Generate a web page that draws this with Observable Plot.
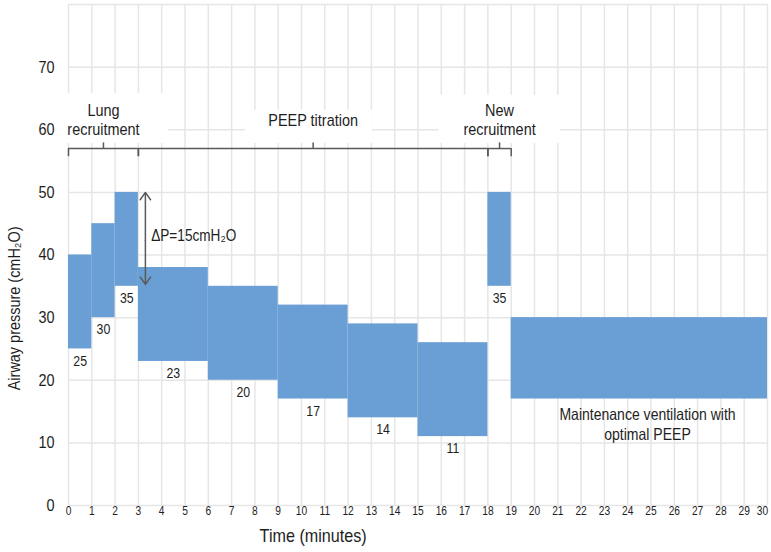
<!DOCTYPE html>
<html><head><meta charset="utf-8">
<script src="https://cdn.jsdelivr.net/npm/d3@7"></script>
<script src="https://cdn.jsdelivr.net/npm/@observablehq/plot@0.6"></script>
<style>
body{margin:0;background:#fff;}
#chart svg{font-family:"Liberation Sans",Arial,sans-serif;}
</style></head><body><div id="chart"></div>
<script>
// step starts / ends (minutes), PEEP (bottom) and peak pressure (top), cmH2O
const segStart = [0, 1, 2, 3, 6, 9, 12, 15, 18, 19];
const segEnd   = [1, 2, 3, 6, 9, 12, 15, 18, 19, 30];
const peep     = [25, 30, 35, 23, 20, 17, 14, 11, 35, 17];
const peak     = [40, 45, 50, 38, 35, 32, 29, 26, 50, 30];
const peepLabels = ["25","30","35","23","20","17","14","11","35",""];
// phases (braces)
const phaseNames = ["Lung\nrecruitment", "PEEP titration", "New\nrecruitment"];
const phaseStart = [0, 3, 18];
const phaseEnd   = [3, 18, 19];
// ticks
const xTicks = d3.range(0, 31);
const yTicks = [0, 10, 20, 30, 40, 50, 60, 70];
const yGrid  = [0, 10, 20, 30, 40, 50, 60, 70, 80];

const segs = segStart.map((s, i) => ({s, e: segEnd[i], lo: peep[i], hi: peak[i], lab: peepLabels[i]}));
const phases = phaseNames.map((n, i) => ({n, s: phaseStart[i], e: phaseEnd[i], m: (phaseStart[i] + phaseEnd[i]) / 2}));
const braceY = 57;
const gridColor = "#e6e6e6";
const ink = "#1e1e1e";
const braceColor = "#5a5a5a";
const barColor = "#6a9fd5";

// white masks behind the phase captions (as in the original)
const masks = [
  {x1: -0.1, x2: 4.3, y1: 57.8, y2: 65.8},
  {x1: 7.6, x2: 13.05, y1: 57.8, y2: 63.1},
  {x1: 15.9, x2: 21.1, y1: 57.8, y2: 65.5}
];

const chart = Plot.plot({
  width: 771,
  height: 552,
  marginLeft: 68,
  marginRight: 4,
  marginTop: 4,
  marginBottom: 47,
  x: {domain: [0, 30]},
  y: {domain: [0, 80]},
  marks: [
    Plot.gridY(yGrid, {stroke: gridColor, strokeOpacity: 1, strokeWidth: 1.5}),
    Plot.gridX(xTicks, {stroke: gridColor, strokeOpacity: 1, strokeWidth: 1.5}),
    Plot.rect(masks, {x1: "x1", x2: "x2", y1: "y1", y2: "y2", fill: "white"}),
    Plot.rect(segs, {x1: "s", x2: "e", y1: "lo", y2: "hi", fill: barColor, inset: 0}),
    Plot.text(segs.filter(d => d.lab), {x: d => (d.s + d.e) / 2, y: "lo", text: "lab", dy: 12, fontSize: 14.5, fill: ink}),
    // braces
    Plot.ruleY(phases, {y: braceY, x1: "s", x2: "e", stroke: braceColor, strokeWidth: 1.5}),
    Plot.ruleX(phases, {x: "s", y1: braceY, y2: braceY - 1.3, stroke: braceColor, strokeWidth: 1.5}),
    Plot.ruleX(phases, {x: "e", y1: braceY, y2: braceY - 1.3, stroke: braceColor, strokeWidth: 1.5}),
    Plot.ruleX(phases, {x: "m", y1: braceY, y2: braceY + 0.9, stroke: braceColor, strokeWidth: 1.5}),
    Plot.text(phases, {x: "m", y: 61.6, text: "n", fontSize: 17, lineHeight: 1.12, fill: ink}),
    // delta P arrow
    Plot.arrow([0, 1], {x1: 3.3, x2: 3.3, y1: 42.3, y2: i => i === 0 ? 50 : 35.3, stroke: braceColor, strokeWidth: 1.5, headLength: 9, headAngle: 70, bend: 0}),
    Plot.text(["ΔP=15cmH₂O"], {x: 3.55, y: 43, text: d => d, textAnchor: "start", fontSize: 16, fill: ink}),
    Plot.text(["Maintenance ventilation with\noptimal PEEP"], {x: 24.85, y: 13.1, text: d => d, fontSize: 16.5, lineHeight: 1.2, fill: ink}),
    // axes
    Plot.axisX(xTicks.slice(0, -1), {tickSize: 0, tickPadding: 1, fontSize: 12, fill: ink, label: null}),
    Plot.axisX(xTicks.slice(-1), {tickSize: 0, tickPadding: 1, fontSize: 12, fill: ink, label: null, dx: -5}),
    Plot.axisY(yTicks, {tickSize: 0, tickPadding: 14, fontSize: 17, fill: ink, label: null}),
    Plot.text(["Time (minutes)"], {x: 10.5, frameAnchor: "bottom", dy: 36, text: d => d, fontSize: 19, fill: ink}),
    Plot.text(["Airway pressure (cmH₂O)"], {y: 18.4, frameAnchor: "left", dx: -54, rotate: -90, text: d => d, fontSize: 17, fill: ink})
  ]
});
document.getElementById("chart").append(chart);

// condensed lettering, like the original's narrow typeface
chart.querySelectorAll("text").forEach(t => {
  const tspans = t.querySelectorAll("tspan");
  const targets = tspans.length ? Array.from(tspans) : [t];
  targets.forEach(el => {
    const len = el.getComputedTextLength();
    if (len > 0) {
      el.setAttribute("textLength", (len * 0.85).toFixed(2));
      el.setAttribute("lengthAdjust", "spacingAndGlyphs");
    }
  });
});
</script>
</body></html>
